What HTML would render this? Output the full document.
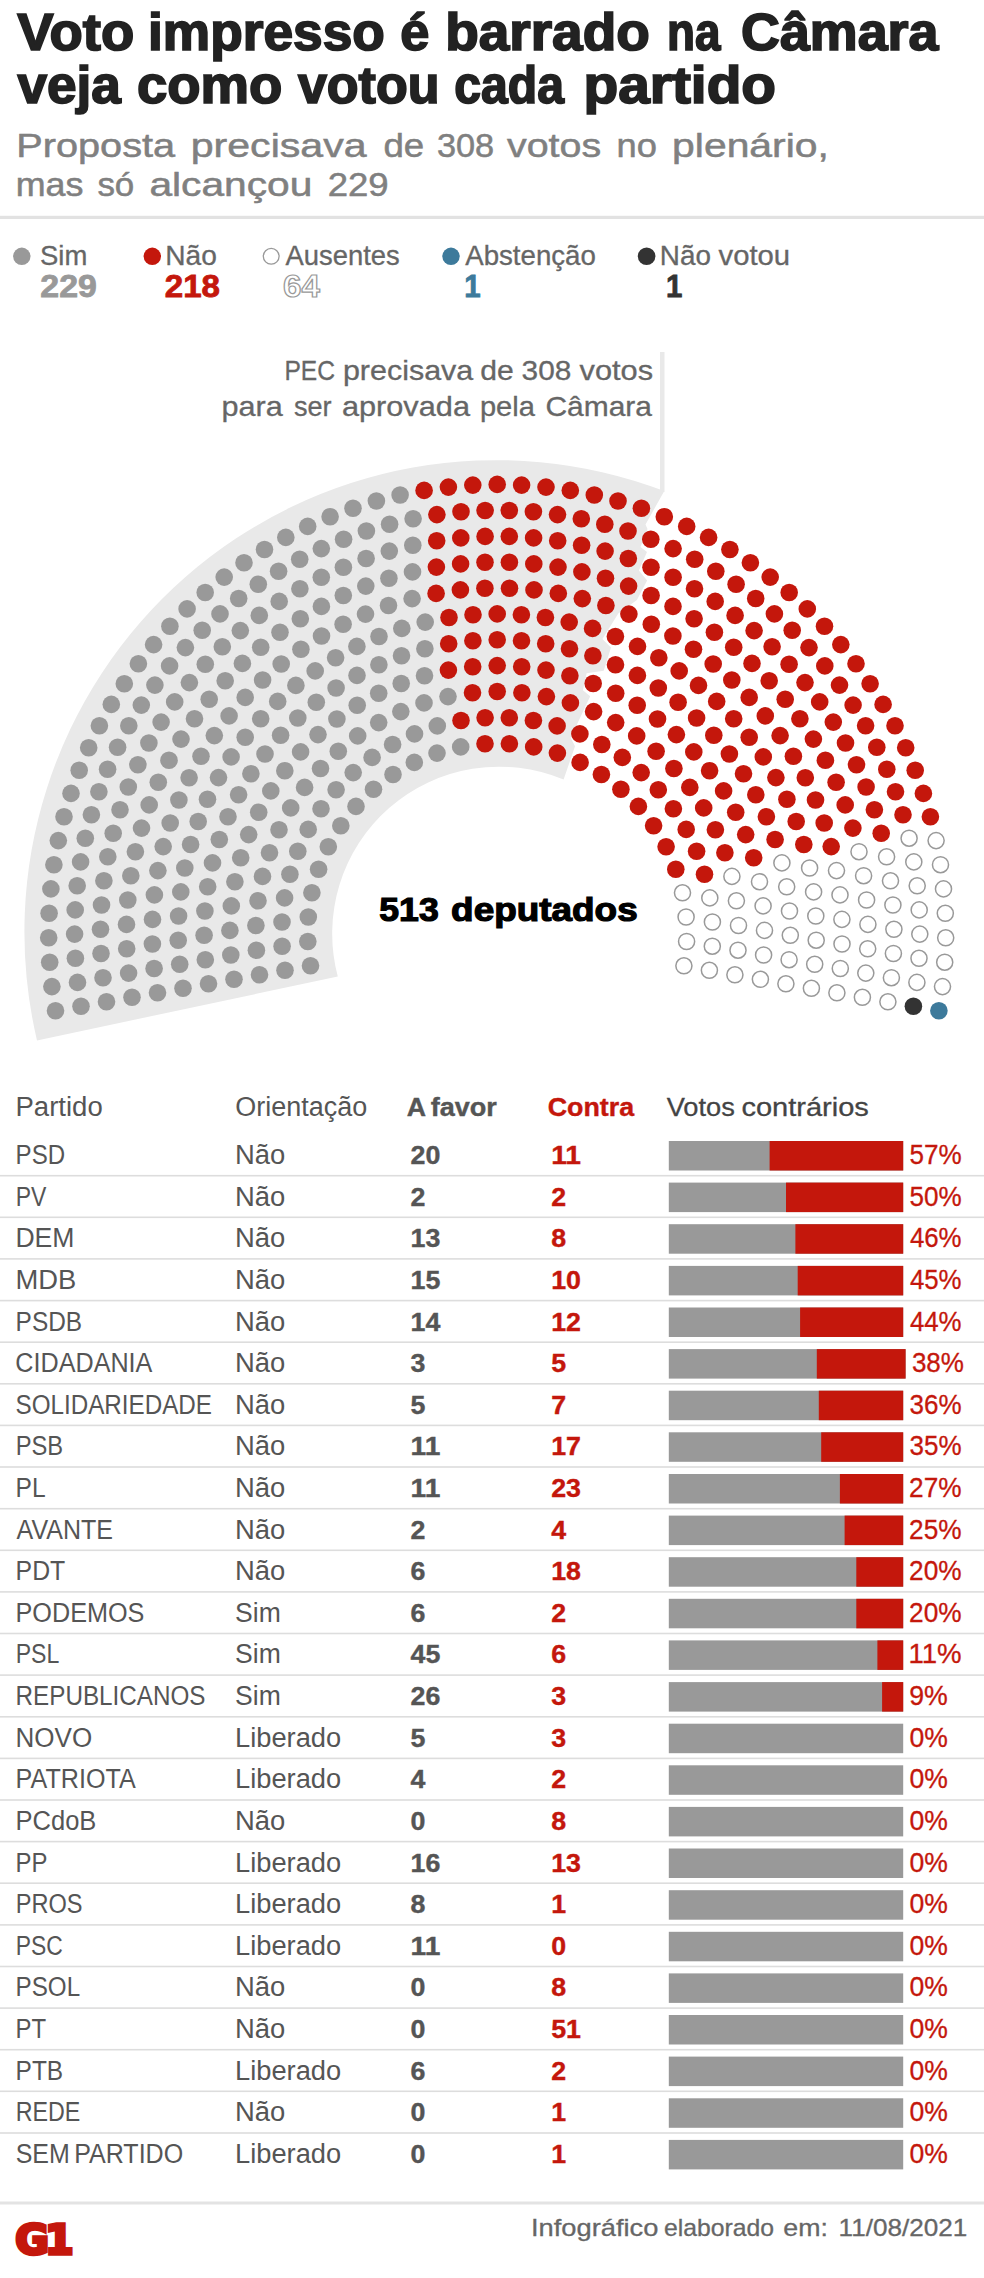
<!DOCTYPE html>
<html lang="pt-BR"><head><meta charset="utf-8"><title>Voto impresso é barrado na Câmara</title>
<style>
html,body{margin:0;padding:0;background:#fff}
body{width:984px;height:2278px;overflow:hidden}
svg{display:block;font-family:"Liberation Sans", "DejaVu Sans", sans-serif}
</style></head><body>
<svg width="984" height="2278" viewBox="0 0 984 2278">
<text y="50.4" font-size="51" fill="#222222" font-weight="bold" stroke="#222222" stroke-width="1.7"><tspan x="17.3" textLength="117.0" lengthAdjust="spacingAndGlyphs">Voto</tspan> <tspan x="148.0" textLength="236.8" lengthAdjust="spacingAndGlyphs">impresso</tspan> <tspan x="400.2" textLength="29.1" lengthAdjust="spacingAndGlyphs">é</tspan> <tspan x="445.2" textLength="204.6" lengthAdjust="spacingAndGlyphs">barrado</tspan> <tspan x="667.1" textLength="53.4" lengthAdjust="spacingAndGlyphs">na</tspan> <tspan x="741.1" textLength="197.3" lengthAdjust="spacingAndGlyphs">Câmara</tspan></text>
<text y="103" font-size="51" fill="#222222" font-weight="bold" stroke="#222222" stroke-width="1.7"><tspan x="17.4" textLength="103.4" lengthAdjust="spacingAndGlyphs">veja</tspan> <tspan x="136.9" textLength="145.4" lengthAdjust="spacingAndGlyphs">como</tspan> <tspan x="297.9" textLength="141.6" lengthAdjust="spacingAndGlyphs">votou</tspan> <tspan x="454.3" textLength="109.7" lengthAdjust="spacingAndGlyphs">cada</tspan> <tspan x="583.6" textLength="192.4" lengthAdjust="spacingAndGlyphs">partido</tspan></text>
<text y="157.4" font-size="33" fill="#808080" stroke="#808080" stroke-width="0.5"><tspan x="16.3" textLength="158.8" lengthAdjust="spacingAndGlyphs">Proposta</tspan> <tspan x="190.7" textLength="175.9" lengthAdjust="spacingAndGlyphs">precisava</tspan> <tspan x="383.4" textLength="40.8" lengthAdjust="spacingAndGlyphs">de</tspan> <tspan x="436.9" textLength="57.2" lengthAdjust="spacingAndGlyphs">308</tspan> <tspan x="507.0" textLength="94.1" lengthAdjust="spacingAndGlyphs">votos</tspan> <tspan x="616.5" textLength="40.4" lengthAdjust="spacingAndGlyphs">no</tspan> <tspan x="672.1" textLength="156.8" lengthAdjust="spacingAndGlyphs">plenário,</tspan></text>
<text y="195.5" font-size="33" fill="#808080" stroke="#808080" stroke-width="0.5"><tspan x="15.7" textLength="67.7" lengthAdjust="spacingAndGlyphs">mas</tspan> <tspan x="97.4" textLength="36.9" lengthAdjust="spacingAndGlyphs">só</tspan> <tspan x="149.4" textLength="163.0" lengthAdjust="spacingAndGlyphs">alcançou</tspan> <tspan x="327.7" textLength="61.0" lengthAdjust="spacingAndGlyphs">229</tspan></text>
<rect x="0" y="215.8" width="984" height="3.2" fill="#e2e2e2"/>
<circle cx="21.8" cy="256.3" r="8.7" fill="#999999"/>
<circle cx="152.3" cy="256.3" r="8.7" fill="#c4170c"/>
<circle cx="271.2" cy="256.3" r="7.9" fill="#fff" stroke="#999" stroke-width="1.3"/>
<circle cx="451" cy="256.3" r="8.7" fill="#3d7a9b"/>
<circle cx="646.6" cy="256.3" r="8.8" fill="#333333"/>
<text x="40.0" y="264.6" textLength="47.3" lengthAdjust="spacingAndGlyphs" font-size="27.2" fill="#666666" stroke="#666666" stroke-width="0.3">Sim</text>
<text x="165.3" y="264.6" textLength="51.6" lengthAdjust="spacingAndGlyphs" font-size="27.2" fill="#666666" stroke="#666666" stroke-width="0.3">Não</text>
<text x="285.5" y="264.6" textLength="114.3" lengthAdjust="spacingAndGlyphs" font-size="27.2" fill="#666666" stroke="#666666" stroke-width="0.3">Ausentes</text>
<text x="465.2" y="264.6" textLength="130.7" lengthAdjust="spacingAndGlyphs" font-size="27.2" fill="#666666" stroke="#666666" stroke-width="0.3">Abstenção</text>
<text y="264.6" font-size="27.2" fill="#666666" stroke="#666666" stroke-width="0.3"><tspan x="659.8" textLength="51.1" lengthAdjust="spacingAndGlyphs">Não</tspan> <tspan x="718.5" textLength="71.6" lengthAdjust="spacingAndGlyphs">votou</tspan></text>
<text x="40.3" y="297.3" textLength="56.5" lengthAdjust="spacingAndGlyphs" font-size="31" fill="#999999" font-weight="bold" stroke="#999999" stroke-width="0.8">229</text>
<text x="164.8" y="297.3" textLength="55.2" lengthAdjust="spacingAndGlyphs" font-size="31" fill="#c4170c" font-weight="bold" stroke="#c4170c" stroke-width="0.8">218</text>
<text x="283.0" y="297.3" textLength="36.8" lengthAdjust="spacingAndGlyphs" font-size="31" font-weight="bold" fill="#fff" stroke="#999" stroke-width="1.2">64</text>
<text x="464.2" y="297.3" textLength="16.4" lengthAdjust="spacingAndGlyphs" font-size="31" fill="#3d7a9b" font-weight="bold" stroke="#3d7a9b" stroke-width="0.8">1</text>
<text x="665.9" y="297.3" textLength="16.4" lengthAdjust="spacingAndGlyphs" font-size="31" fill="#333333" font-weight="bold" stroke="#333333" stroke-width="0.8">1</text>
<text y="380.2" font-size="27.4" fill="#666666" stroke="#666666" stroke-width="0.3"><tspan x="284.4" textLength="50.6" lengthAdjust="spacingAndGlyphs">PEC</tspan> <tspan x="342.9" textLength="130.4" lengthAdjust="spacingAndGlyphs">precisava</tspan> <tspan x="480.2" textLength="33.5" lengthAdjust="spacingAndGlyphs">de</tspan> <tspan x="521.6" textLength="49.7" lengthAdjust="spacingAndGlyphs">308</tspan> <tspan x="579.5" textLength="73.6" lengthAdjust="spacingAndGlyphs">votos</tspan></text>
<text y="416" font-size="27.4" fill="#666666" stroke="#666666" stroke-width="0.3"><tspan x="221.4" textLength="61.3" lengthAdjust="spacingAndGlyphs">para</tspan> <tspan x="293.9" textLength="37.6" lengthAdjust="spacingAndGlyphs">ser</tspan> <tspan x="341.9" textLength="128.1" lengthAdjust="spacingAndGlyphs">aprovada</tspan> <tspan x="479.9" textLength="55.0" lengthAdjust="spacingAndGlyphs">pela</tspan> <tspan x="545.4" textLength="106.6" lengthAdjust="spacingAndGlyphs">Câmara</tspan></text>
<path d="M37.0,1040.4 A472.0,472.0 0 0 1 664.3,491.0 L645.5,524.5 L647.5,529.0 L640.5,547.0 L647.0,552.0 L638.9,570.4 L647.1,580.6 L636.9,599.9 L618.3,613.4 L602.4,639.0 L611.0,647.6 L603.7,670.7 L586.6,673.2 L582.9,690.2 L590.2,696.3 L570.7,737.8 L575.0,746.3 L563.6,779.6 A167.0,167.0 0 0 0 337.8,976.6 Z" fill="#e9e9e9"/>
<rect x="660" y="352" width="4.5" height="140" fill="#e9e9e9"/>
<g fill="#999999"><circle cx="310.5" cy="965.8" r="8.8"/><circle cx="285.0" cy="970.3" r="8.8"/><circle cx="259.5" cy="974.8" r="8.8"/><circle cx="234.0" cy="979.3" r="8.8"/><circle cx="208.5" cy="983.8" r="8.8"/><circle cx="183.0" cy="988.3" r="8.8"/><circle cx="157.5" cy="992.8" r="8.8"/><circle cx="132.0" cy="997.3" r="8.8"/><circle cx="106.5" cy="1001.8" r="8.8"/><circle cx="81.0" cy="1006.3" r="8.8"/><circle cx="55.5" cy="1010.8" r="8.8"/><circle cx="51.9" cy="986.6" r="8.8"/><circle cx="77.5" cy="982.4" r="8.8"/><circle cx="103.0" cy="977.7" r="8.8"/><circle cx="128.6" cy="973.1" r="8.8"/><circle cx="154.1" cy="968.5" r="8.8"/><circle cx="179.7" cy="964.3" r="8.8"/><circle cx="205.3" cy="959.7" r="8.8"/><circle cx="230.8" cy="955.0" r="8.8"/><circle cx="256.4" cy="950.2" r="8.8"/><circle cx="49.7" cy="962.2" r="8.8"/><circle cx="282.1" cy="946.2" r="8.8"/><circle cx="75.4" cy="958.3" r="8.8"/><circle cx="101.0" cy="953.5" r="8.8"/><circle cx="307.8" cy="941.5" r="8.8"/><circle cx="126.7" cy="948.8" r="8.8"/><circle cx="152.4" cy="944.0" r="8.8"/><circle cx="178.2" cy="940.2" r="8.8"/><circle cx="48.7" cy="937.8" r="8.8"/><circle cx="204.1" cy="935.3" r="8.8"/><circle cx="74.6" cy="934.1" r="8.8"/><circle cx="229.9" cy="930.4" r="8.8"/><circle cx="100.5" cy="929.3" r="8.8"/><circle cx="126.5" cy="924.4" r="8.8"/><circle cx="255.9" cy="925.5" r="8.8"/><circle cx="152.5" cy="919.4" r="8.8"/><circle cx="49.1" cy="913.3" r="8.8"/><circle cx="282.0" cy="922.0" r="8.8"/><circle cx="178.6" cy="916.0" r="8.8"/><circle cx="75.2" cy="909.9" r="8.8"/><circle cx="101.5" cy="905.0" r="8.8"/><circle cx="204.9" cy="911.0" r="8.8"/><circle cx="308.3" cy="917.0" r="8.8"/><circle cx="127.8" cy="900.0" r="8.8"/><circle cx="50.9" cy="888.9" r="8.8"/><circle cx="231.3" cy="905.9" r="8.8"/><circle cx="154.4" cy="894.9" r="8.8"/><circle cx="77.2" cy="885.8" r="8.8"/><circle cx="180.8" cy="891.9" r="8.8"/><circle cx="103.9" cy="880.8" r="8.8"/><circle cx="258.0" cy="900.8" r="8.8"/><circle cx="53.9" cy="864.7" r="8.8"/><circle cx="130.8" cy="875.7" r="8.8"/><circle cx="207.7" cy="886.8" r="8.8"/><circle cx="284.6" cy="897.9" r="8.8"/><circle cx="80.6" cy="861.9" r="8.8"/><circle cx="157.9" cy="870.6" r="8.8"/><circle cx="234.9" cy="881.7" r="8.8"/><circle cx="107.8" cy="856.8" r="8.8"/><circle cx="184.8" cy="868.0" r="8.8"/><circle cx="58.3" cy="840.6" r="8.8"/><circle cx="311.9" cy="892.8" r="8.8"/><circle cx="135.4" cy="851.7" r="8.8"/><circle cx="85.3" cy="838.2" r="8.8"/><circle cx="262.5" cy="876.4" r="8.8"/><circle cx="212.5" cy="862.9" r="8.8"/><circle cx="163.2" cy="846.6" r="8.8"/><circle cx="113.2" cy="833.2" r="8.8"/><circle cx="64.0" cy="816.8" r="8.8"/><circle cx="289.9" cy="874.2" r="8.8"/><circle cx="190.6" cy="844.5" r="8.8"/><circle cx="91.4" cy="814.8" r="8.8"/><circle cx="240.7" cy="857.8" r="8.8"/><circle cx="141.5" cy="828.1" r="8.8"/><circle cx="120.0" cy="809.8" r="8.8"/><circle cx="71.0" cy="793.4" r="8.8"/><circle cx="219.3" cy="839.5" r="8.8"/><circle cx="170.2" cy="823.0" r="8.8"/><circle cx="269.5" cy="852.7" r="8.8"/><circle cx="98.9" cy="791.8" r="8.8"/><circle cx="318.6" cy="869.2" r="8.8"/><circle cx="149.2" cy="804.9" r="8.8"/><circle cx="198.2" cy="821.5" r="8.8"/><circle cx="79.2" cy="770.3" r="8.8"/><circle cx="248.7" cy="834.6" r="8.8"/><circle cx="128.3" cy="787.0" r="8.8"/><circle cx="297.8" cy="851.3" r="8.8"/><circle cx="178.9" cy="800.0" r="8.8"/><circle cx="107.6" cy="769.2" r="8.8"/><circle cx="228.0" cy="816.8" r="8.8"/><circle cx="158.3" cy="782.3" r="8.8"/><circle cx="88.7" cy="747.8" r="8.8"/><circle cx="207.5" cy="799.2" r="8.8"/><circle cx="137.9" cy="764.7" r="8.8"/><circle cx="279.0" cy="829.8" r="8.8"/><circle cx="117.6" cy="747.2" r="8.8"/><circle cx="189.1" cy="777.7" r="8.8"/><circle cx="258.7" cy="812.2" r="8.8"/><circle cx="328.3" cy="846.7" r="8.8"/><circle cx="99.4" cy="725.8" r="8.8"/><circle cx="169.0" cy="760.3" r="8.8"/><circle cx="238.6" cy="794.8" r="8.8"/><circle cx="148.9" cy="743.0" r="8.8"/><circle cx="308.2" cy="829.4" r="8.8"/><circle cx="218.5" cy="777.6" r="8.8"/><circle cx="128.8" cy="725.8" r="8.8"/><circle cx="111.3" cy="704.4" r="8.8"/><circle cx="201.0" cy="756.2" r="8.8"/><circle cx="290.7" cy="807.9" r="8.8"/><circle cx="181.0" cy="739.1" r="8.8"/><circle cx="270.8" cy="790.9" r="8.8"/><circle cx="161.1" cy="722.1" r="8.8"/><circle cx="141.3" cy="705.1" r="8.8"/><circle cx="250.9" cy="773.8" r="8.8"/><circle cx="231.1" cy="756.9" r="8.8"/><circle cx="124.3" cy="683.7" r="8.8"/><circle cx="340.8" cy="825.7" r="8.8"/><circle cx="214.3" cy="735.6" r="8.8"/><circle cx="321.0" cy="808.8" r="8.8"/><circle cx="194.5" cy="718.7" r="8.8"/><circle cx="174.7" cy="701.9" r="8.8"/><circle cx="154.9" cy="685.1" r="8.8"/><circle cx="138.4" cy="663.8" r="8.8"/><circle cx="304.6" cy="787.4" r="8.8"/><circle cx="284.8" cy="770.7" r="8.8"/><circle cx="265.0" cy="754.0" r="8.8"/><circle cx="245.2" cy="737.2" r="8.8"/><circle cx="229.1" cy="715.9" r="8.8"/><circle cx="209.2" cy="699.2" r="8.8"/><circle cx="189.4" cy="682.6" r="8.8"/><circle cx="169.6" cy="665.9" r="8.8"/><circle cx="153.6" cy="644.6" r="8.8"/><circle cx="336.1" cy="789.8" r="8.8"/><circle cx="356.0" cy="806.4" r="8.8"/><circle cx="260.7" cy="718.7" r="8.8"/><circle cx="280.6" cy="735.3" r="8.8"/><circle cx="185.4" cy="647.6" r="8.8"/><circle cx="300.6" cy="751.9" r="8.8"/><circle cx="205.3" cy="664.2" r="8.8"/><circle cx="225.2" cy="680.8" r="8.8"/><circle cx="320.5" cy="768.5" r="8.8"/><circle cx="245.2" cy="697.4" r="8.8"/><circle cx="169.9" cy="626.3" r="8.8"/><circle cx="202.2" cy="630.2" r="8.8"/><circle cx="222.3" cy="646.8" r="8.8"/><circle cx="187.1" cy="608.9" r="8.8"/><circle cx="277.7" cy="701.4" r="8.8"/><circle cx="242.4" cy="663.4" r="8.8"/><circle cx="297.8" cy="718.0" r="8.8"/><circle cx="262.6" cy="680.0" r="8.8"/><circle cx="318.0" cy="734.6" r="8.8"/><circle cx="353.2" cy="772.6" r="8.8"/><circle cx="338.3" cy="751.2" r="8.8"/><circle cx="220.0" cy="613.9" r="8.8"/><circle cx="373.5" cy="789.2" r="8.8"/><circle cx="205.2" cy="592.5" r="8.8"/><circle cx="240.3" cy="630.6" r="8.8"/><circle cx="260.7" cy="647.3" r="8.8"/><circle cx="295.9" cy="685.4" r="8.8"/><circle cx="281.2" cy="664.0" r="8.8"/><circle cx="316.3" cy="702.2" r="8.8"/><circle cx="238.7" cy="598.5" r="8.8"/><circle cx="224.2" cy="577.1" r="8.8"/><circle cx="336.9" cy="719.0" r="8.8"/><circle cx="259.3" cy="615.4" r="8.8"/><circle cx="280.0" cy="632.3" r="8.8"/><circle cx="372.1" cy="757.4" r="8.8"/><circle cx="357.7" cy="735.9" r="8.8"/><circle cx="315.2" cy="670.9" r="8.8"/><circle cx="300.9" cy="649.3" r="8.8"/><circle cx="258.3" cy="584.3" r="8.8"/><circle cx="244.0" cy="562.7" r="8.8"/><circle cx="393.0" cy="774.5" r="8.8"/><circle cx="336.1" cy="688.0" r="8.8"/><circle cx="279.2" cy="601.4" r="8.8"/><circle cx="300.3" cy="618.7" r="8.8"/><circle cx="357.2" cy="705.2" r="8.8"/><circle cx="264.5" cy="549.5" r="8.8"/><circle cx="278.6" cy="571.2" r="8.8"/><circle cx="321.5" cy="636.0" r="8.8"/><circle cx="335.6" cy="657.8" r="8.8"/><circle cx="299.9" cy="588.7" r="8.8"/><circle cx="378.7" cy="722.6" r="8.8"/><circle cx="392.6" cy="744.5" r="8.8"/><circle cx="357.0" cy="675.4" r="8.8"/><circle cx="321.4" cy="606.4" r="8.8"/><circle cx="285.8" cy="537.4" r="8.8"/><circle cx="299.7" cy="559.3" r="8.8"/><circle cx="343.1" cy="624.3" r="8.8"/><circle cx="378.7" cy="693.3" r="8.8"/><circle cx="321.3" cy="577.3" r="8.8"/><circle cx="356.9" cy="646.4" r="8.8"/><circle cx="414.3" cy="762.4" r="8.8"/><circle cx="307.7" cy="526.4" r="8.8"/><circle cx="321.3" cy="548.6" r="8.8"/><circle cx="343.3" cy="595.5" r="8.8"/><circle cx="378.9" cy="664.7" r="8.8"/><circle cx="400.8" cy="711.6" r="8.8"/><circle cx="343.4" cy="567.2" r="8.8"/><circle cx="414.5" cy="733.9" r="8.8"/><circle cx="365.5" cy="614.1" r="8.8"/><circle cx="330.1" cy="516.7" r="8.8"/><circle cx="379.0" cy="636.5" r="8.8"/><circle cx="343.6" cy="539.2" r="8.8"/><circle cx="401.2" cy="683.5" r="8.8"/><circle cx="365.8" cy="586.1" r="8.8"/><circle cx="366.1" cy="558.5" r="8.8"/><circle cx="401.5" cy="655.8" r="8.8"/><circle cx="353.0" cy="508.2" r="8.8"/><circle cx="437.0" cy="753.1" r="8.8"/><circle cx="388.5" cy="605.5" r="8.8"/><circle cx="366.4" cy="531.0" r="8.8"/><circle cx="424.0" cy="702.9" r="8.8"/><circle cx="401.8" cy="628.4" r="8.8"/><circle cx="388.9" cy="578.2" r="8.8"/><circle cx="437.3" cy="725.9" r="8.8"/><circle cx="424.5" cy="675.7" r="8.8"/><circle cx="389.3" cy="551.1" r="8.8"/><circle cx="376.4" cy="501.0" r="8.8"/><circle cx="389.6" cy="524.2" r="8.8"/><circle cx="424.9" cy="648.8" r="8.8"/><circle cx="412.1" cy="598.6" r="8.8"/><circle cx="412.5" cy="571.9" r="8.8"/><circle cx="425.2" cy="622.1" r="8.8"/><circle cx="400.1" cy="495.0" r="8.8"/><circle cx="412.8" cy="545.3" r="8.8"/><circle cx="448.0" cy="696.6" r="8.8"/><circle cx="413.1" cy="518.7" r="8.8"/><circle cx="460.7" cy="746.9" r="8.8"/></g>
<g fill="#c4170c"><circle cx="448.4" cy="670.1" r="8.8"/><circle cx="436.1" cy="593.4" r="8.8"/><circle cx="461.0" cy="720.5" r="8.8"/><circle cx="448.7" cy="643.8" r="8.8"/><circle cx="436.4" cy="567.1" r="8.8"/><circle cx="424.1" cy="490.4" r="8.8"/><circle cx="436.7" cy="540.8" r="8.8"/><circle cx="449.0" cy="617.5" r="8.8"/><circle cx="436.9" cy="514.6" r="8.8"/><circle cx="448.4" cy="487.1" r="8.8"/><circle cx="460.4" cy="589.9" r="8.8"/><circle cx="472.5" cy="692.8" r="8.8"/><circle cx="460.6" cy="563.9" r="8.8"/><circle cx="472.7" cy="666.8" r="8.8"/><circle cx="460.8" cy="537.9" r="8.8"/><circle cx="461.0" cy="511.8" r="8.8"/><circle cx="472.9" cy="640.8" r="8.8"/><circle cx="473.0" cy="614.8" r="8.8"/><circle cx="485.0" cy="743.7" r="8.8"/><circle cx="485.1" cy="717.8" r="8.8"/><circle cx="472.8" cy="485.1" r="8.8"/><circle cx="484.9" cy="588.2" r="8.8"/><circle cx="485.0" cy="562.3" r="8.8"/><circle cx="485.1" cy="536.4" r="8.8"/><circle cx="485.1" cy="510.5" r="8.8"/><circle cx="497.2" cy="691.5" r="8.8"/><circle cx="497.2" cy="665.6" r="8.8"/><circle cx="497.2" cy="639.7" r="8.8"/><circle cx="497.2" cy="613.9" r="8.8"/><circle cx="497.2" cy="484.4" r="8.8"/><circle cx="509.3" cy="510.5" r="8.8"/><circle cx="509.3" cy="536.4" r="8.8"/><circle cx="509.4" cy="562.3" r="8.8"/><circle cx="509.5" cy="588.2" r="8.8"/><circle cx="521.6" cy="485.1" r="8.8"/><circle cx="509.3" cy="717.8" r="8.8"/><circle cx="509.4" cy="743.7" r="8.8"/><circle cx="521.4" cy="614.8" r="8.8"/><circle cx="521.5" cy="640.8" r="8.8"/><circle cx="533.4" cy="511.8" r="8.8"/><circle cx="521.7" cy="666.8" r="8.8"/><circle cx="533.6" cy="537.9" r="8.8"/><circle cx="533.8" cy="563.9" r="8.8"/><circle cx="521.9" cy="692.8" r="8.8"/><circle cx="534.0" cy="589.9" r="8.8"/><circle cx="546.0" cy="487.1" r="8.8"/><circle cx="557.5" cy="514.6" r="8.8"/><circle cx="545.4" cy="617.5" r="8.8"/><circle cx="557.7" cy="540.8" r="8.8"/><circle cx="570.3" cy="490.4" r="8.8"/><circle cx="558.0" cy="567.1" r="8.8"/><circle cx="545.7" cy="643.8" r="8.8"/><circle cx="533.4" cy="720.5" r="8.8"/><circle cx="558.3" cy="593.4" r="8.8"/><circle cx="546.0" cy="670.1" r="8.8"/><circle cx="533.7" cy="746.9" r="8.8"/><circle cx="581.3" cy="518.7" r="8.8"/><circle cx="546.4" cy="696.6" r="8.8"/><circle cx="581.6" cy="545.3" r="8.8"/><circle cx="594.3" cy="495.0" r="8.8"/><circle cx="569.2" cy="622.1" r="8.8"/><circle cx="581.9" cy="571.9" r="8.8"/><circle cx="569.5" cy="648.8" r="8.8"/><circle cx="582.3" cy="598.6" r="8.8"/><circle cx="604.8" cy="524.2" r="8.8"/><circle cx="618.0" cy="501.0" r="8.8"/><circle cx="569.9" cy="675.7" r="8.8"/><circle cx="605.1" cy="551.1" r="8.8"/><circle cx="557.1" cy="725.9" r="8.8"/><circle cx="605.5" cy="578.2" r="8.8"/><circle cx="592.6" cy="628.4" r="8.8"/><circle cx="570.4" cy="702.9" r="8.8"/><circle cx="628.0" cy="531.0" r="8.8"/><circle cx="605.9" cy="605.5" r="8.8"/><circle cx="557.4" cy="753.1" r="8.8"/><circle cx="641.4" cy="508.2" r="8.8"/><circle cx="592.9" cy="655.8" r="8.8"/><circle cx="628.3" cy="558.5" r="8.8"/><circle cx="628.6" cy="586.1" r="8.8"/><circle cx="593.2" cy="683.5" r="8.8"/><circle cx="650.8" cy="539.2" r="8.8"/><circle cx="615.4" cy="636.5" r="8.8"/><circle cx="664.3" cy="516.7" r="8.8"/><circle cx="628.9" cy="614.1" r="8.8"/><circle cx="579.9" cy="733.9" r="8.8"/><circle cx="651.0" cy="567.2" r="8.8"/><circle cx="593.6" cy="711.6" r="8.8"/><circle cx="615.5" cy="664.7" r="8.8"/><circle cx="651.1" cy="595.5" r="8.8"/><circle cx="673.1" cy="548.6" r="8.8"/><circle cx="686.7" cy="526.4" r="8.8"/><circle cx="580.1" cy="762.4" r="8.8"/><circle cx="637.5" cy="646.4" r="8.8"/><circle cx="615.7" cy="693.3" r="8.8"/><circle cx="673.1" cy="577.3" r="8.8"/><circle cx="651.3" cy="624.3" r="8.8"/><circle cx="694.7" cy="559.3" r="8.8"/><circle cx="708.6" cy="537.4" r="8.8"/><circle cx="673.0" cy="606.4" r="8.8"/><circle cx="637.4" cy="675.4" r="8.8"/><circle cx="601.8" cy="744.5" r="8.8"/><circle cx="615.7" cy="722.6" r="8.8"/><circle cx="694.5" cy="588.7" r="8.8"/><circle cx="658.8" cy="657.8" r="8.8"/><circle cx="672.9" cy="636.0" r="8.8"/><circle cx="715.8" cy="571.2" r="8.8"/><circle cx="729.9" cy="549.5" r="8.8"/><circle cx="637.2" cy="705.2" r="8.8"/><circle cx="694.1" cy="618.7" r="8.8"/><circle cx="601.4" cy="774.5" r="8.8"/><circle cx="658.3" cy="688.0" r="8.8"/><circle cx="715.2" cy="601.4" r="8.8"/><circle cx="750.4" cy="562.7" r="8.8"/><circle cx="736.1" cy="584.3" r="8.8"/><circle cx="693.5" cy="649.3" r="8.8"/><circle cx="679.2" cy="670.9" r="8.8"/><circle cx="636.7" cy="735.9" r="8.8"/><circle cx="622.3" cy="757.4" r="8.8"/><circle cx="714.4" cy="632.3" r="8.8"/><circle cx="657.5" cy="719.0" r="8.8"/><circle cx="735.1" cy="615.4" r="8.8"/><circle cx="770.2" cy="577.1" r="8.8"/><circle cx="755.7" cy="598.5" r="8.8"/><circle cx="678.1" cy="702.2" r="8.8"/><circle cx="713.2" cy="664.0" r="8.8"/><circle cx="698.5" cy="685.4" r="8.8"/><circle cx="733.7" cy="647.3" r="8.8"/><circle cx="754.1" cy="630.6" r="8.8"/><circle cx="789.2" cy="592.5" r="8.8"/><circle cx="620.9" cy="789.2" r="8.8"/><circle cx="774.4" cy="613.9" r="8.8"/><circle cx="656.1" cy="751.2" r="8.8"/><circle cx="641.2" cy="772.6" r="8.8"/><circle cx="676.4" cy="734.6" r="8.8"/><circle cx="696.6" cy="718.0" r="8.8"/><circle cx="731.8" cy="680.0" r="8.8"/><circle cx="752.0" cy="663.4" r="8.8"/><circle cx="716.7" cy="701.4" r="8.8"/><circle cx="807.3" cy="608.9" r="8.8"/><circle cx="772.1" cy="646.8" r="8.8"/><circle cx="792.2" cy="630.2" r="8.8"/><circle cx="824.5" cy="626.3" r="8.8"/><circle cx="749.2" cy="697.4" r="8.8"/><circle cx="673.9" cy="768.5" r="8.8"/><circle cx="769.2" cy="680.8" r="8.8"/><circle cx="693.8" cy="751.9" r="8.8"/><circle cx="789.1" cy="664.2" r="8.8"/><circle cx="809.0" cy="647.6" r="8.8"/><circle cx="713.8" cy="735.3" r="8.8"/><circle cx="733.7" cy="718.7" r="8.8"/><circle cx="638.4" cy="806.4" r="8.8"/><circle cx="658.3" cy="789.8" r="8.8"/><circle cx="840.8" cy="644.6" r="8.8"/><circle cx="824.8" cy="665.9" r="8.8"/><circle cx="805.0" cy="682.6" r="8.8"/><circle cx="785.2" cy="699.2" r="8.8"/><circle cx="765.3" cy="715.9" r="8.8"/><circle cx="749.2" cy="737.2" r="8.8"/><circle cx="729.4" cy="754.0" r="8.8"/><circle cx="709.6" cy="770.7" r="8.8"/><circle cx="689.8" cy="787.4" r="8.8"/><circle cx="856.0" cy="663.8" r="8.8"/><circle cx="839.5" cy="685.1" r="8.8"/><circle cx="819.7" cy="701.9" r="8.8"/><circle cx="799.9" cy="718.7" r="8.8"/><circle cx="673.4" cy="808.8" r="8.8"/><circle cx="780.1" cy="735.6" r="8.8"/><circle cx="653.6" cy="825.7" r="8.8"/><circle cx="870.1" cy="683.7" r="8.8"/><circle cx="763.3" cy="756.9" r="8.8"/><circle cx="743.5" cy="773.8" r="8.8"/><circle cx="853.1" cy="705.1" r="8.8"/><circle cx="723.6" cy="790.9" r="8.8"/><circle cx="833.3" cy="722.1" r="8.8"/><circle cx="813.4" cy="739.1" r="8.8"/><circle cx="703.7" cy="807.9" r="8.8"/><circle cx="793.4" cy="756.2" r="8.8"/><circle cx="883.1" cy="704.4" r="8.8"/><circle cx="865.6" cy="725.8" r="8.8"/><circle cx="775.9" cy="777.6" r="8.8"/><circle cx="686.2" cy="829.4" r="8.8"/><circle cx="845.5" cy="743.0" r="8.8"/><circle cx="755.8" cy="794.8" r="8.8"/><circle cx="825.4" cy="760.3" r="8.8"/><circle cx="895.0" cy="725.8" r="8.8"/><circle cx="666.1" cy="846.7" r="8.8"/><circle cx="735.7" cy="812.2" r="8.8"/><circle cx="805.3" cy="777.7" r="8.8"/><circle cx="876.8" cy="747.2" r="8.8"/><circle cx="715.4" cy="829.8" r="8.8"/><circle cx="856.5" cy="764.7" r="8.8"/><circle cx="786.9" cy="799.2" r="8.8"/><circle cx="905.7" cy="747.8" r="8.8"/><circle cx="836.1" cy="782.3" r="8.8"/><circle cx="766.4" cy="816.8" r="8.8"/><circle cx="886.8" cy="769.2" r="8.8"/><circle cx="815.5" cy="800.0" r="8.8"/><circle cx="696.6" cy="851.3" r="8.8"/><circle cx="745.7" cy="834.6" r="8.8"/><circle cx="866.1" cy="787.0" r="8.8"/><circle cx="915.2" cy="770.3" r="8.8"/><circle cx="796.2" cy="821.5" r="8.8"/><circle cx="845.2" cy="804.9" r="8.8"/><circle cx="675.8" cy="869.2" r="8.8"/><circle cx="895.5" cy="791.8" r="8.8"/><circle cx="724.9" cy="852.7" r="8.8"/><circle cx="775.1" cy="839.5" r="8.8"/><circle cx="824.2" cy="823.0" r="8.8"/><circle cx="923.4" cy="793.4" r="8.8"/><circle cx="874.4" cy="809.8" r="8.8"/><circle cx="852.9" cy="828.1" r="8.8"/><circle cx="753.7" cy="857.8" r="8.8"/><circle cx="903.0" cy="814.8" r="8.8"/><circle cx="803.8" cy="844.5" r="8.8"/><circle cx="704.5" cy="874.2" r="8.8"/><circle cx="930.4" cy="816.8" r="8.8"/><circle cx="881.2" cy="833.2" r="8.8"/><circle cx="831.2" cy="846.6" r="8.8"/></g>
<g fill="#fff" stroke="#999" stroke-width="1.5"><circle cx="781.9" cy="862.9" r="8.05"/><circle cx="731.9" cy="876.4" r="8.05"/><circle cx="909.1" cy="838.2" r="8.05"/><circle cx="859.0" cy="851.7" r="8.05"/><circle cx="682.5" cy="892.8" r="8.05"/><circle cx="936.1" cy="840.6" r="8.05"/><circle cx="809.6" cy="868.0" r="8.05"/><circle cx="759.5" cy="881.7" r="8.05"/><circle cx="886.6" cy="856.8" r="8.05"/><circle cx="836.5" cy="870.6" r="8.05"/><circle cx="913.8" cy="861.9" r="8.05"/><circle cx="709.8" cy="897.9" r="8.05"/><circle cx="786.7" cy="886.8" r="8.05"/><circle cx="863.6" cy="875.7" r="8.05"/><circle cx="940.5" cy="864.7" r="8.05"/><circle cx="736.4" cy="900.8" r="8.05"/><circle cx="890.5" cy="880.8" r="8.05"/><circle cx="813.6" cy="891.9" r="8.05"/><circle cx="917.2" cy="885.8" r="8.05"/><circle cx="840.0" cy="894.9" r="8.05"/><circle cx="763.1" cy="905.9" r="8.05"/><circle cx="943.5" cy="888.9" r="8.05"/><circle cx="866.6" cy="900.0" r="8.05"/><circle cx="686.1" cy="917.0" r="8.05"/><circle cx="789.5" cy="911.0" r="8.05"/><circle cx="892.9" cy="905.0" r="8.05"/><circle cx="919.2" cy="909.9" r="8.05"/><circle cx="815.8" cy="916.0" r="8.05"/><circle cx="712.4" cy="922.0" r="8.05"/><circle cx="945.3" cy="913.3" r="8.05"/><circle cx="841.9" cy="919.4" r="8.05"/><circle cx="738.5" cy="925.5" r="8.05"/><circle cx="867.9" cy="924.4" r="8.05"/><circle cx="764.5" cy="930.4" r="8.05"/><circle cx="893.9" cy="929.3" r="8.05"/><circle cx="919.8" cy="934.1" r="8.05"/><circle cx="790.3" cy="935.3" r="8.05"/><circle cx="945.7" cy="937.8" r="8.05"/><circle cx="816.2" cy="940.2" r="8.05"/><circle cx="842.0" cy="944.0" r="8.05"/><circle cx="867.7" cy="948.8" r="8.05"/><circle cx="686.6" cy="941.5" r="8.05"/><circle cx="893.4" cy="953.5" r="8.05"/><circle cx="919.0" cy="958.3" r="8.05"/><circle cx="712.3" cy="946.2" r="8.05"/><circle cx="944.7" cy="962.2" r="8.05"/><circle cx="738.0" cy="950.2" r="8.05"/><circle cx="763.6" cy="955.0" r="8.05"/><circle cx="789.1" cy="959.7" r="8.05"/><circle cx="814.7" cy="964.3" r="8.05"/><circle cx="840.3" cy="968.5" r="8.05"/><circle cx="865.8" cy="973.1" r="8.05"/><circle cx="891.4" cy="977.7" r="8.05"/><circle cx="916.9" cy="982.4" r="8.05"/><circle cx="942.5" cy="986.6" r="8.05"/><circle cx="683.9" cy="965.8" r="8.05"/><circle cx="709.4" cy="970.3" r="8.05"/><circle cx="734.9" cy="974.8" r="8.05"/><circle cx="760.4" cy="979.3" r="8.05"/><circle cx="785.9" cy="983.8" r="8.05"/><circle cx="811.4" cy="988.3" r="8.05"/><circle cx="836.9" cy="992.8" r="8.05"/><circle cx="862.4" cy="997.3" r="8.05"/><circle cx="887.9" cy="1001.8" r="8.05"/></g>
<g fill="#333333"><circle cx="913.4" cy="1006.3" r="8.8"/></g>
<g fill="#3d7a9b"><circle cx="938.9" cy="1010.8" r="8.8"/></g>
<text y="920.8" font-size="33.5" fill="#000" font-weight="bold" stroke="#000" stroke-width="1.2"><tspan x="379.3" textLength="59.4" lengthAdjust="spacingAndGlyphs">513</tspan> <tspan x="451.1" textLength="186.6" lengthAdjust="spacingAndGlyphs">deputados</tspan></text>
<text x="15.5" y="1116.1" textLength="87.2" lengthAdjust="spacingAndGlyphs" font-size="27" fill="#555555">Partido</text>
<text x="235.3" y="1116.1" textLength="132.0" lengthAdjust="spacingAndGlyphs" font-size="27" fill="#555555">Orientação</text>
<text y="1116.1" font-size="26.5" fill="#555555" font-weight="bold" stroke="#555555" stroke-width="0.4"><tspan x="406.7" textLength="18.3" lengthAdjust="spacingAndGlyphs">A</tspan> <tspan x="430.7" textLength="66.2" lengthAdjust="spacingAndGlyphs">favor</tspan></text>
<text x="547.7" y="1116.1" textLength="86.4" lengthAdjust="spacingAndGlyphs" font-size="26.5" fill="#c4170c" font-weight="bold" stroke="#c4170c" stroke-width="0.4">Contra</text>
<text y="1116.1" font-size="26.5" fill="#444444" stroke="#444444" stroke-width="0.3"><tspan x="666.7" textLength="68.1" lengthAdjust="spacingAndGlyphs">Votos</tspan> <tspan x="741.4" textLength="127.5" lengthAdjust="spacingAndGlyphs">contrários</tspan></text>
<text x="15.6" y="1164.0" textLength="49.5" lengthAdjust="spacingAndGlyphs" font-size="27" fill="#555555">PSD</text>
<text x="235.0" y="1164.0" textLength="50.3" lengthAdjust="spacingAndGlyphs" font-size="27" fill="#555555">Não</text>
<text x="410.6" y="1164.0" textLength="29.8" lengthAdjust="spacingAndGlyphs" font-size="26.5" fill="#555555" font-weight="bold" stroke="#555555" stroke-width="0.4">20</text>
<text x="551.2" y="1164.0" textLength="29.8" lengthAdjust="spacingAndGlyphs" font-size="26.5" fill="#c4170c" font-weight="bold" stroke="#c4170c" stroke-width="0.4">11</text>
<rect x="668.8" y="1141.0" width="234.4" height="29.5" fill="#999999"/>
<rect x="769.6" y="1141.0" width="133.6" height="29.5" fill="#c4170c"/>
<text x="909.4" y="1164.0" textLength="52.2" lengthAdjust="spacingAndGlyphs" font-size="27" fill="#c4170c" stroke="#c4170c" stroke-width="0.3">57%</text>
<rect x="0" y="1174.9" width="984" height="1.6" fill="#dddddd"/>
<text x="15.7" y="1205.6" textLength="30.7" lengthAdjust="spacingAndGlyphs" font-size="27" fill="#555555">PV</text>
<text x="235.0" y="1205.6" textLength="50.3" lengthAdjust="spacingAndGlyphs" font-size="27" fill="#555555">Não</text>
<text x="410.6" y="1205.6" textLength="14.9" lengthAdjust="spacingAndGlyphs" font-size="26.5" fill="#555555" font-weight="bold" stroke="#555555" stroke-width="0.4">2</text>
<text x="551.2" y="1205.6" textLength="14.9" lengthAdjust="spacingAndGlyphs" font-size="26.5" fill="#c4170c" font-weight="bold" stroke="#c4170c" stroke-width="0.4">2</text>
<rect x="668.8" y="1182.6" width="234.4" height="29.5" fill="#999999"/>
<rect x="786.0" y="1182.6" width="117.2" height="29.5" fill="#c4170c"/>
<text x="909.4" y="1205.6" textLength="52.2" lengthAdjust="spacingAndGlyphs" font-size="27" fill="#c4170c" stroke="#c4170c" stroke-width="0.3">50%</text>
<rect x="0" y="1216.5" width="984" height="1.6" fill="#dddddd"/>
<text x="15.4" y="1247.2" textLength="59.1" lengthAdjust="spacingAndGlyphs" font-size="27" fill="#555555">DEM</text>
<text x="235.0" y="1247.2" textLength="50.3" lengthAdjust="spacingAndGlyphs" font-size="27" fill="#555555">Não</text>
<text x="410.6" y="1247.2" textLength="29.8" lengthAdjust="spacingAndGlyphs" font-size="26.5" fill="#555555" font-weight="bold" stroke="#555555" stroke-width="0.4">13</text>
<text x="551.2" y="1247.2" textLength="14.9" lengthAdjust="spacingAndGlyphs" font-size="26.5" fill="#c4170c" font-weight="bold" stroke="#c4170c" stroke-width="0.4">8</text>
<rect x="668.8" y="1224.2" width="234.4" height="29.5" fill="#999999"/>
<rect x="795.4" y="1224.2" width="107.8" height="29.5" fill="#c4170c"/>
<text x="909.9" y="1247.2" textLength="51.7" lengthAdjust="spacingAndGlyphs" font-size="27" fill="#c4170c" stroke="#c4170c" stroke-width="0.3">46%</text>
<rect x="0" y="1258.1" width="984" height="1.6" fill="#dddddd"/>
<text x="15.4" y="1288.9" textLength="60.8" lengthAdjust="spacingAndGlyphs" font-size="27" fill="#555555">MDB</text>
<text x="235.0" y="1288.9" textLength="50.3" lengthAdjust="spacingAndGlyphs" font-size="27" fill="#555555">Não</text>
<text x="410.6" y="1288.9" textLength="29.8" lengthAdjust="spacingAndGlyphs" font-size="26.5" fill="#555555" font-weight="bold" stroke="#555555" stroke-width="0.4">15</text>
<text x="551.2" y="1288.9" textLength="29.8" lengthAdjust="spacingAndGlyphs" font-size="26.5" fill="#c4170c" font-weight="bold" stroke="#c4170c" stroke-width="0.4">10</text>
<rect x="668.8" y="1265.9" width="234.4" height="29.5" fill="#999999"/>
<rect x="797.7" y="1265.9" width="105.5" height="29.5" fill="#c4170c"/>
<text x="909.9" y="1288.9" textLength="51.7" lengthAdjust="spacingAndGlyphs" font-size="27" fill="#c4170c" stroke="#c4170c" stroke-width="0.3">45%</text>
<rect x="0" y="1299.8" width="984" height="1.6" fill="#dddddd"/>
<text x="15.6" y="1330.5" textLength="66.5" lengthAdjust="spacingAndGlyphs" font-size="27" fill="#555555">PSDB</text>
<text x="235.0" y="1330.5" textLength="50.3" lengthAdjust="spacingAndGlyphs" font-size="27" fill="#555555">Não</text>
<text x="410.6" y="1330.5" textLength="29.8" lengthAdjust="spacingAndGlyphs" font-size="26.5" fill="#555555" font-weight="bold" stroke="#555555" stroke-width="0.4">14</text>
<text x="551.2" y="1330.5" textLength="29.8" lengthAdjust="spacingAndGlyphs" font-size="26.5" fill="#c4170c" font-weight="bold" stroke="#c4170c" stroke-width="0.4">12</text>
<rect x="668.8" y="1307.5" width="234.4" height="29.5" fill="#999999"/>
<rect x="800.1" y="1307.5" width="103.1" height="29.5" fill="#c4170c"/>
<text x="909.9" y="1330.5" textLength="51.7" lengthAdjust="spacingAndGlyphs" font-size="27" fill="#c4170c" stroke="#c4170c" stroke-width="0.3">44%</text>
<rect x="0" y="1341.4" width="984" height="1.6" fill="#dddddd"/>
<text x="15.3" y="1372.1" textLength="137.1" lengthAdjust="spacingAndGlyphs" font-size="27" fill="#555555">CIDADANIA</text>
<text x="235.0" y="1372.1" textLength="50.3" lengthAdjust="spacingAndGlyphs" font-size="27" fill="#555555">Não</text>
<text x="410.6" y="1372.1" textLength="14.9" lengthAdjust="spacingAndGlyphs" font-size="26.5" fill="#555555" font-weight="bold" stroke="#555555" stroke-width="0.4">3</text>
<text x="551.2" y="1372.1" textLength="14.9" lengthAdjust="spacingAndGlyphs" font-size="26.5" fill="#c4170c" font-weight="bold" stroke="#c4170c" stroke-width="0.4">5</text>
<rect x="668.8" y="1349.1" width="236.8" height="29.5" fill="#999999"/>
<rect x="816.8" y="1349.1" width="88.8" height="29.5" fill="#c4170c"/>
<text x="911.9" y="1372.1" textLength="52.1" lengthAdjust="spacingAndGlyphs" font-size="27" fill="#c4170c" stroke="#c4170c" stroke-width="0.3">38%</text>
<rect x="0" y="1383.0" width="984" height="1.6" fill="#dddddd"/>
<text x="15.5" y="1413.7" textLength="196.5" lengthAdjust="spacingAndGlyphs" font-size="27" fill="#555555">SOLIDARIEDADE</text>
<text x="235.0" y="1413.7" textLength="50.3" lengthAdjust="spacingAndGlyphs" font-size="27" fill="#555555">Não</text>
<text x="410.6" y="1413.7" textLength="14.9" lengthAdjust="spacingAndGlyphs" font-size="26.5" fill="#555555" font-weight="bold" stroke="#555555" stroke-width="0.4">5</text>
<text x="551.2" y="1413.7" textLength="14.9" lengthAdjust="spacingAndGlyphs" font-size="26.5" fill="#c4170c" font-weight="bold" stroke="#c4170c" stroke-width="0.4">7</text>
<rect x="668.8" y="1390.7" width="234.4" height="29.5" fill="#999999"/>
<rect x="818.8" y="1390.7" width="84.4" height="29.5" fill="#c4170c"/>
<text x="909.5" y="1413.7" textLength="52.1" lengthAdjust="spacingAndGlyphs" font-size="27" fill="#c4170c" stroke="#c4170c" stroke-width="0.3">36%</text>
<rect x="0" y="1424.6" width="984" height="1.6" fill="#dddddd"/>
<text x="15.7" y="1455.3" textLength="47.5" lengthAdjust="spacingAndGlyphs" font-size="27" fill="#555555">PSB</text>
<text x="235.0" y="1455.3" textLength="50.3" lengthAdjust="spacingAndGlyphs" font-size="27" fill="#555555">Não</text>
<text x="410.6" y="1455.3" textLength="29.8" lengthAdjust="spacingAndGlyphs" font-size="26.5" fill="#555555" font-weight="bold" stroke="#555555" stroke-width="0.4">11</text>
<text x="551.2" y="1455.3" textLength="29.8" lengthAdjust="spacingAndGlyphs" font-size="26.5" fill="#c4170c" font-weight="bold" stroke="#c4170c" stroke-width="0.4">17</text>
<rect x="668.8" y="1432.3" width="234.4" height="29.5" fill="#999999"/>
<rect x="821.2" y="1432.3" width="82.0" height="29.5" fill="#c4170c"/>
<text x="909.5" y="1455.3" textLength="52.1" lengthAdjust="spacingAndGlyphs" font-size="27" fill="#c4170c" stroke="#c4170c" stroke-width="0.3">35%</text>
<rect x="0" y="1466.2" width="984" height="1.6" fill="#dddddd"/>
<text x="15.6" y="1497.0" textLength="30.0" lengthAdjust="spacingAndGlyphs" font-size="27" fill="#555555">PL</text>
<text x="235.0" y="1497.0" textLength="50.3" lengthAdjust="spacingAndGlyphs" font-size="27" fill="#555555">Não</text>
<text x="410.6" y="1497.0" textLength="29.8" lengthAdjust="spacingAndGlyphs" font-size="26.5" fill="#555555" font-weight="bold" stroke="#555555" stroke-width="0.4">11</text>
<text x="551.2" y="1497.0" textLength="29.8" lengthAdjust="spacingAndGlyphs" font-size="26.5" fill="#c4170c" font-weight="bold" stroke="#c4170c" stroke-width="0.4">23</text>
<rect x="668.8" y="1474.0" width="234.4" height="29.5" fill="#999999"/>
<rect x="839.9" y="1474.0" width="63.3" height="29.5" fill="#c4170c"/>
<text x="909.1" y="1497.0" textLength="52.5" lengthAdjust="spacingAndGlyphs" font-size="27" fill="#c4170c" stroke="#c4170c" stroke-width="0.3">27%</text>
<rect x="0" y="1507.9" width="984" height="1.6" fill="#dddddd"/>
<text x="16.6" y="1538.6" textLength="96.4" lengthAdjust="spacingAndGlyphs" font-size="27" fill="#555555">AVANTE</text>
<text x="235.0" y="1538.6" textLength="50.3" lengthAdjust="spacingAndGlyphs" font-size="27" fill="#555555">Não</text>
<text x="410.6" y="1538.6" textLength="14.9" lengthAdjust="spacingAndGlyphs" font-size="26.5" fill="#555555" font-weight="bold" stroke="#555555" stroke-width="0.4">2</text>
<text x="551.2" y="1538.6" textLength="14.9" lengthAdjust="spacingAndGlyphs" font-size="26.5" fill="#c4170c" font-weight="bold" stroke="#c4170c" stroke-width="0.4">4</text>
<rect x="668.8" y="1515.6" width="234.4" height="29.5" fill="#999999"/>
<rect x="844.6" y="1515.6" width="58.6" height="29.5" fill="#c4170c"/>
<text x="909.1" y="1538.6" textLength="52.5" lengthAdjust="spacingAndGlyphs" font-size="27" fill="#c4170c" stroke="#c4170c" stroke-width="0.3">25%</text>
<rect x="0" y="1549.5" width="984" height="1.6" fill="#dddddd"/>
<text x="15.6" y="1580.2" textLength="49.6" lengthAdjust="spacingAndGlyphs" font-size="27" fill="#555555">PDT</text>
<text x="235.0" y="1580.2" textLength="50.3" lengthAdjust="spacingAndGlyphs" font-size="27" fill="#555555">Não</text>
<text x="410.6" y="1580.2" textLength="14.9" lengthAdjust="spacingAndGlyphs" font-size="26.5" fill="#555555" font-weight="bold" stroke="#555555" stroke-width="0.4">6</text>
<text x="551.2" y="1580.2" textLength="29.8" lengthAdjust="spacingAndGlyphs" font-size="26.5" fill="#c4170c" font-weight="bold" stroke="#c4170c" stroke-width="0.4">18</text>
<rect x="668.8" y="1557.2" width="234.4" height="29.5" fill="#999999"/>
<rect x="856.3" y="1557.2" width="46.9" height="29.5" fill="#c4170c"/>
<text x="909.1" y="1580.2" textLength="52.5" lengthAdjust="spacingAndGlyphs" font-size="27" fill="#c4170c" stroke="#c4170c" stroke-width="0.3">20%</text>
<rect x="0" y="1591.1" width="984" height="1.6" fill="#dddddd"/>
<text x="15.5" y="1621.8" textLength="128.9" lengthAdjust="spacingAndGlyphs" font-size="27" fill="#555555">PODEMOS</text>
<text x="235.1" y="1621.8" textLength="45.7" lengthAdjust="spacingAndGlyphs" font-size="27" fill="#555555">Sim</text>
<text x="410.6" y="1621.8" textLength="14.9" lengthAdjust="spacingAndGlyphs" font-size="26.5" fill="#555555" font-weight="bold" stroke="#555555" stroke-width="0.4">6</text>
<text x="551.2" y="1621.8" textLength="14.9" lengthAdjust="spacingAndGlyphs" font-size="26.5" fill="#c4170c" font-weight="bold" stroke="#c4170c" stroke-width="0.4">2</text>
<rect x="668.8" y="1598.8" width="234.4" height="29.5" fill="#999999"/>
<rect x="856.3" y="1598.8" width="46.9" height="29.5" fill="#c4170c"/>
<text x="909.1" y="1621.8" textLength="52.5" lengthAdjust="spacingAndGlyphs" font-size="27" fill="#c4170c" stroke="#c4170c" stroke-width="0.3">20%</text>
<rect x="0" y="1632.7" width="984" height="1.6" fill="#dddddd"/>
<text x="15.7" y="1663.4" textLength="43.6" lengthAdjust="spacingAndGlyphs" font-size="27" fill="#555555">PSL</text>
<text x="235.1" y="1663.4" textLength="45.7" lengthAdjust="spacingAndGlyphs" font-size="27" fill="#555555">Sim</text>
<text x="410.6" y="1663.4" textLength="29.8" lengthAdjust="spacingAndGlyphs" font-size="26.5" fill="#555555" font-weight="bold" stroke="#555555" stroke-width="0.4">45</text>
<text x="551.2" y="1663.4" textLength="14.9" lengthAdjust="spacingAndGlyphs" font-size="26.5" fill="#c4170c" font-weight="bold" stroke="#c4170c" stroke-width="0.4">6</text>
<rect x="668.8" y="1640.4" width="234.4" height="29.5" fill="#999999"/>
<rect x="877.4" y="1640.4" width="25.8" height="29.5" fill="#c4170c"/>
<text x="908.4" y="1663.4" textLength="53.2" lengthAdjust="spacingAndGlyphs" font-size="27" fill="#c4170c" stroke="#c4170c" stroke-width="0.3">11%</text>
<rect x="0" y="1674.3" width="984" height="1.6" fill="#dddddd"/>
<text x="15.6" y="1705.1" textLength="189.8" lengthAdjust="spacingAndGlyphs" font-size="27" fill="#555555">REPUBLICANOS</text>
<text x="235.1" y="1705.1" textLength="45.7" lengthAdjust="spacingAndGlyphs" font-size="27" fill="#555555">Sim</text>
<text x="410.6" y="1705.1" textLength="29.8" lengthAdjust="spacingAndGlyphs" font-size="26.5" fill="#555555" font-weight="bold" stroke="#555555" stroke-width="0.4">26</text>
<text x="551.2" y="1705.1" textLength="14.9" lengthAdjust="spacingAndGlyphs" font-size="26.5" fill="#c4170c" font-weight="bold" stroke="#c4170c" stroke-width="0.4">3</text>
<rect x="668.8" y="1682.1" width="234.4" height="29.5" fill="#999999"/>
<rect x="882.1" y="1682.1" width="21.1" height="29.5" fill="#c4170c"/>
<text x="909.2" y="1705.1" textLength="38.6" lengthAdjust="spacingAndGlyphs" font-size="27" fill="#c4170c" stroke="#c4170c" stroke-width="0.3">9%</text>
<rect x="0" y="1716.0" width="984" height="1.6" fill="#dddddd"/>
<text x="15.5" y="1746.7" textLength="76.7" lengthAdjust="spacingAndGlyphs" font-size="27" fill="#555555">NOVO</text>
<text x="235.0" y="1746.7" textLength="106.2" lengthAdjust="spacingAndGlyphs" font-size="27" fill="#555555">Liberado</text>
<text x="410.6" y="1746.7" textLength="14.9" lengthAdjust="spacingAndGlyphs" font-size="26.5" fill="#555555" font-weight="bold" stroke="#555555" stroke-width="0.4">5</text>
<text x="551.2" y="1746.7" textLength="14.9" lengthAdjust="spacingAndGlyphs" font-size="26.5" fill="#c4170c" font-weight="bold" stroke="#c4170c" stroke-width="0.4">3</text>
<rect x="668.8" y="1723.7" width="234.4" height="29.5" fill="#999999"/>
<text x="909.4" y="1746.7" textLength="38.4" lengthAdjust="spacingAndGlyphs" font-size="27" fill="#c4170c" stroke="#c4170c" stroke-width="0.3">0%</text>
<rect x="0" y="1757.6" width="984" height="1.6" fill="#dddddd"/>
<text x="15.6" y="1788.3" textLength="120.1" lengthAdjust="spacingAndGlyphs" font-size="27" fill="#555555">PATRIOTA</text>
<text x="235.0" y="1788.3" textLength="106.2" lengthAdjust="spacingAndGlyphs" font-size="27" fill="#555555">Liberado</text>
<text x="410.6" y="1788.3" textLength="14.9" lengthAdjust="spacingAndGlyphs" font-size="26.5" fill="#555555" font-weight="bold" stroke="#555555" stroke-width="0.4">4</text>
<text x="551.2" y="1788.3" textLength="14.9" lengthAdjust="spacingAndGlyphs" font-size="26.5" fill="#c4170c" font-weight="bold" stroke="#c4170c" stroke-width="0.4">2</text>
<rect x="668.8" y="1765.3" width="234.4" height="29.5" fill="#999999"/>
<text x="909.4" y="1788.3" textLength="38.4" lengthAdjust="spacingAndGlyphs" font-size="27" fill="#c4170c" stroke="#c4170c" stroke-width="0.3">0%</text>
<rect x="0" y="1799.2" width="984" height="1.6" fill="#dddddd"/>
<text x="15.5" y="1829.9" textLength="80.9" lengthAdjust="spacingAndGlyphs" font-size="27" fill="#555555">PCdoB</text>
<text x="235.0" y="1829.9" textLength="50.3" lengthAdjust="spacingAndGlyphs" font-size="27" fill="#555555">Não</text>
<text x="410.6" y="1829.9" textLength="14.9" lengthAdjust="spacingAndGlyphs" font-size="26.5" fill="#555555" font-weight="bold" stroke="#555555" stroke-width="0.4">0</text>
<text x="551.2" y="1829.9" textLength="14.9" lengthAdjust="spacingAndGlyphs" font-size="26.5" fill="#c4170c" font-weight="bold" stroke="#c4170c" stroke-width="0.4">8</text>
<rect x="668.8" y="1806.9" width="234.4" height="29.5" fill="#999999"/>
<text x="909.4" y="1829.9" textLength="38.4" lengthAdjust="spacingAndGlyphs" font-size="27" fill="#c4170c" stroke="#c4170c" stroke-width="0.3">0%</text>
<rect x="0" y="1840.8" width="984" height="1.6" fill="#dddddd"/>
<text x="15.6" y="1871.5" textLength="31.9" lengthAdjust="spacingAndGlyphs" font-size="27" fill="#555555">PP</text>
<text x="235.0" y="1871.5" textLength="106.2" lengthAdjust="spacingAndGlyphs" font-size="27" fill="#555555">Liberado</text>
<text x="410.6" y="1871.5" textLength="29.8" lengthAdjust="spacingAndGlyphs" font-size="26.5" fill="#555555" font-weight="bold" stroke="#555555" stroke-width="0.4">16</text>
<text x="551.2" y="1871.5" textLength="29.8" lengthAdjust="spacingAndGlyphs" font-size="26.5" fill="#c4170c" font-weight="bold" stroke="#c4170c" stroke-width="0.4">13</text>
<rect x="668.8" y="1848.5" width="234.4" height="29.5" fill="#999999"/>
<text x="909.4" y="1871.5" textLength="38.4" lengthAdjust="spacingAndGlyphs" font-size="27" fill="#c4170c" stroke="#c4170c" stroke-width="0.3">0%</text>
<rect x="0" y="1882.4" width="984" height="1.6" fill="#dddddd"/>
<text x="15.7" y="1913.2" textLength="66.8" lengthAdjust="spacingAndGlyphs" font-size="27" fill="#555555">PROS</text>
<text x="235.0" y="1913.2" textLength="106.2" lengthAdjust="spacingAndGlyphs" font-size="27" fill="#555555">Liberado</text>
<text x="410.6" y="1913.2" textLength="14.9" lengthAdjust="spacingAndGlyphs" font-size="26.5" fill="#555555" font-weight="bold" stroke="#555555" stroke-width="0.4">8</text>
<text x="551.2" y="1913.2" textLength="14.9" lengthAdjust="spacingAndGlyphs" font-size="26.5" fill="#c4170c" font-weight="bold" stroke="#c4170c" stroke-width="0.4">1</text>
<rect x="668.8" y="1890.2" width="234.4" height="29.5" fill="#999999"/>
<text x="909.4" y="1913.2" textLength="38.4" lengthAdjust="spacingAndGlyphs" font-size="27" fill="#c4170c" stroke="#c4170c" stroke-width="0.3">0%</text>
<rect x="0" y="1924.1" width="984" height="1.6" fill="#dddddd"/>
<text x="15.7" y="1954.8" textLength="47.0" lengthAdjust="spacingAndGlyphs" font-size="27" fill="#555555">PSC</text>
<text x="235.0" y="1954.8" textLength="106.2" lengthAdjust="spacingAndGlyphs" font-size="27" fill="#555555">Liberado</text>
<text x="410.6" y="1954.8" textLength="29.8" lengthAdjust="spacingAndGlyphs" font-size="26.5" fill="#555555" font-weight="bold" stroke="#555555" stroke-width="0.4">11</text>
<text x="551.2" y="1954.8" textLength="14.9" lengthAdjust="spacingAndGlyphs" font-size="26.5" fill="#c4170c" font-weight="bold" stroke="#c4170c" stroke-width="0.4">0</text>
<rect x="668.8" y="1931.8" width="234.4" height="29.5" fill="#999999"/>
<text x="909.4" y="1954.8" textLength="38.4" lengthAdjust="spacingAndGlyphs" font-size="27" fill="#c4170c" stroke="#c4170c" stroke-width="0.3">0%</text>
<rect x="0" y="1965.7" width="984" height="1.6" fill="#dddddd"/>
<text x="15.6" y="1996.4" textLength="64.5" lengthAdjust="spacingAndGlyphs" font-size="27" fill="#555555">PSOL</text>
<text x="235.0" y="1996.4" textLength="50.3" lengthAdjust="spacingAndGlyphs" font-size="27" fill="#555555">Não</text>
<text x="410.6" y="1996.4" textLength="14.9" lengthAdjust="spacingAndGlyphs" font-size="26.5" fill="#555555" font-weight="bold" stroke="#555555" stroke-width="0.4">0</text>
<text x="551.2" y="1996.4" textLength="14.9" lengthAdjust="spacingAndGlyphs" font-size="26.5" fill="#c4170c" font-weight="bold" stroke="#c4170c" stroke-width="0.4">8</text>
<rect x="668.8" y="1973.4" width="234.4" height="29.5" fill="#999999"/>
<text x="909.4" y="1996.4" textLength="38.4" lengthAdjust="spacingAndGlyphs" font-size="27" fill="#c4170c" stroke="#c4170c" stroke-width="0.3">0%</text>
<rect x="0" y="2007.3" width="984" height="1.6" fill="#dddddd"/>
<text x="15.6" y="2038.0" textLength="30.6" lengthAdjust="spacingAndGlyphs" font-size="27" fill="#555555">PT</text>
<text x="235.0" y="2038.0" textLength="50.3" lengthAdjust="spacingAndGlyphs" font-size="27" fill="#555555">Não</text>
<text x="410.6" y="2038.0" textLength="14.9" lengthAdjust="spacingAndGlyphs" font-size="26.5" fill="#555555" font-weight="bold" stroke="#555555" stroke-width="0.4">0</text>
<text x="551.2" y="2038.0" textLength="29.8" lengthAdjust="spacingAndGlyphs" font-size="26.5" fill="#c4170c" font-weight="bold" stroke="#c4170c" stroke-width="0.4">51</text>
<rect x="668.8" y="2015.0" width="234.4" height="29.5" fill="#999999"/>
<text x="909.4" y="2038.0" textLength="38.4" lengthAdjust="spacingAndGlyphs" font-size="27" fill="#c4170c" stroke="#c4170c" stroke-width="0.3">0%</text>
<rect x="0" y="2048.9" width="984" height="1.6" fill="#dddddd"/>
<text x="15.6" y="2079.6" textLength="47.6" lengthAdjust="spacingAndGlyphs" font-size="27" fill="#555555">PTB</text>
<text x="235.0" y="2079.6" textLength="106.2" lengthAdjust="spacingAndGlyphs" font-size="27" fill="#555555">Liberado</text>
<text x="410.6" y="2079.6" textLength="14.9" lengthAdjust="spacingAndGlyphs" font-size="26.5" fill="#555555" font-weight="bold" stroke="#555555" stroke-width="0.4">6</text>
<text x="551.2" y="2079.6" textLength="14.9" lengthAdjust="spacingAndGlyphs" font-size="26.5" fill="#c4170c" font-weight="bold" stroke="#c4170c" stroke-width="0.4">2</text>
<rect x="668.8" y="2056.6" width="234.4" height="29.5" fill="#999999"/>
<text x="909.4" y="2079.6" textLength="38.4" lengthAdjust="spacingAndGlyphs" font-size="27" fill="#c4170c" stroke="#c4170c" stroke-width="0.3">0%</text>
<rect x="0" y="2090.5" width="984" height="1.6" fill="#dddddd"/>
<text x="15.7" y="2121.3" textLength="64.6" lengthAdjust="spacingAndGlyphs" font-size="27" fill="#555555">REDE</text>
<text x="235.0" y="2121.3" textLength="50.3" lengthAdjust="spacingAndGlyphs" font-size="27" fill="#555555">Não</text>
<text x="410.6" y="2121.3" textLength="14.9" lengthAdjust="spacingAndGlyphs" font-size="26.5" fill="#555555" font-weight="bold" stroke="#555555" stroke-width="0.4">0</text>
<text x="551.2" y="2121.3" textLength="14.9" lengthAdjust="spacingAndGlyphs" font-size="26.5" fill="#c4170c" font-weight="bold" stroke="#c4170c" stroke-width="0.4">1</text>
<rect x="668.8" y="2098.3" width="234.4" height="29.5" fill="#999999"/>
<text x="909.4" y="2121.3" textLength="38.4" lengthAdjust="spacingAndGlyphs" font-size="27" fill="#c4170c" stroke="#c4170c" stroke-width="0.3">0%</text>
<rect x="0" y="2132.2" width="984" height="1.6" fill="#dddddd"/>
<text y="2162.9" font-size="27" fill="#555555"><tspan x="15.7" textLength="54.1" lengthAdjust="spacingAndGlyphs">SEM</tspan> <tspan x="74.2" textLength="109.0" lengthAdjust="spacingAndGlyphs">PARTIDO</tspan></text>
<text x="235.0" y="2162.9" textLength="106.2" lengthAdjust="spacingAndGlyphs" font-size="27" fill="#555555">Liberado</text>
<text x="410.6" y="2162.9" textLength="14.9" lengthAdjust="spacingAndGlyphs" font-size="26.5" fill="#555555" font-weight="bold" stroke="#555555" stroke-width="0.4">0</text>
<text x="551.2" y="2162.9" textLength="14.9" lengthAdjust="spacingAndGlyphs" font-size="26.5" fill="#c4170c" font-weight="bold" stroke="#c4170c" stroke-width="0.4">1</text>
<rect x="668.8" y="2139.9" width="234.4" height="29.5" fill="#999999"/>
<text x="909.4" y="2162.9" textLength="38.4" lengthAdjust="spacingAndGlyphs" font-size="27" fill="#c4170c" stroke="#c4170c" stroke-width="0.3">0%</text>
<rect x="0" y="2201.5" width="984" height="3" fill="#e3e3e3"/>
<text y="2236.4" font-size="24" fill="#666666" stroke="#666666" stroke-width="0.3"><tspan x="531.0" textLength="127.4" lengthAdjust="spacingAndGlyphs">Infográfico</tspan> <tspan x="663.9" textLength="110.0" lengthAdjust="spacingAndGlyphs">elaborado</tspan> <tspan x="783.3" textLength="44.6" lengthAdjust="spacingAndGlyphs">em:</tspan> <tspan x="838.6" textLength="128.8" lengthAdjust="spacingAndGlyphs">11/08/2021</tspan></text>
<text x="15.2" y="2254.0" textLength="54.3" lengthAdjust="spacingAndGlyphs" letter-spacing="-4" font-family="DejaVu Sans, Liberation Sans, sans-serif" font-size="40.5" font-weight="bold" fill="#c4170c" stroke="#c4170c" stroke-width="3.5" stroke-linejoin="miter">G1</text>
</svg>
</body></html>
